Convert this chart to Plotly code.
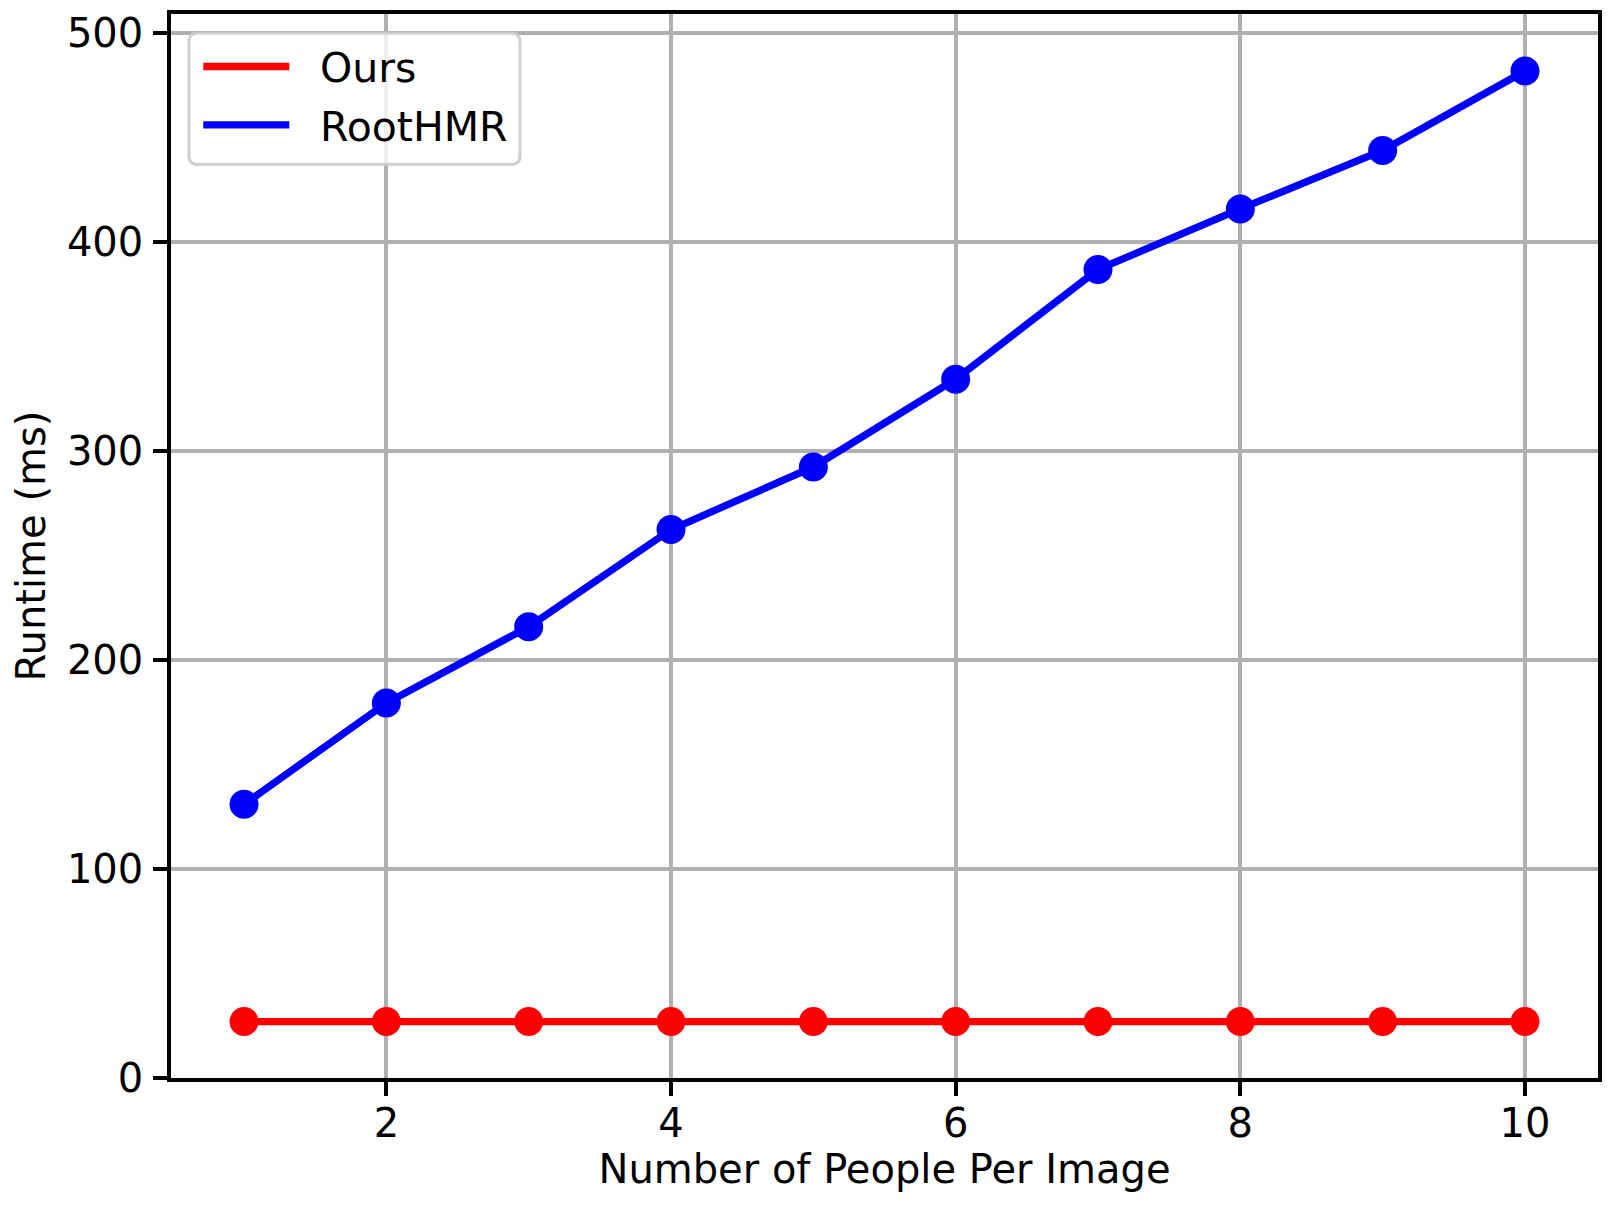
import plotly.graph_objects as go

# ---- data ----
people = [1, 2, 3, 4, 5, 6, 7, 8, 9, 10]
ours = [27, 27, 27, 27, 27, 27, 27, 27, 27, 27]
roothmr = [131, 179.5, 216, 262.5, 292.5, 334.5, 387, 416, 444, 482]
series_names = ["Ours", "RootHMR"]
series_colors = ["#ff0000", "#0000ff"]
x_ticks = [2, 4, 6, 8, 10]
y_ticks = [0, 100, 200, 300, 400, 500]

OFF = 8  # default page body margin
W, H = 1613 - OFF, 1210 - OFF
L, R, T, B = 171 - OFF, 1598 - OFF, 13.5 - OFF, 1078 - OFF  # plot area in figure pixels
FONT = "DejaVu Sans"

fig = go.Figure()
for name, ys, col in zip(series_names, [ours, roothmr], series_colors):
    fig.add_trace(go.Scatter(
        x=people, y=ys, name=name, mode="lines+markers",
        line=dict(color=col, width=7.3),
        marker=dict(color=col, size=29),
        showlegend=False,
    ))

axis_common = dict(
    showline=True, linecolor="black", linewidth=3.5, mirror=True,
    ticks="outside", ticklen=14, tickwidth=3.5, tickcolor="black",
    showgrid=True, gridcolor="#b0b0b0", gridwidth=3.5,
    zeroline=False, layer="above traces", automargin=False,
    tickfont=dict(family=FONT, size=40, color="black"),
)

fig.update_xaxes(
    range=[1 - 0.513, 10 + 0.513], tickvals=x_ticks,
    ticktext=[str(v) for v in x_ticks], ticklabelstandoff=-7,
    title=dict(text="Number of People Per Image",
               font=dict(family=FONT, size=40, color="black"), standoff=8),
    **axis_common,
)
fig.update_yaxes(
    range=[0, 509.3], tickvals=y_ticks,
    ticktext=[str(v) for v in y_ticks], ticklabelstandoff=2,
    title=dict(text="Runtime (ms)",
               font=dict(family=FONT, size=40, color="black"), standoff=16),
    **axis_common,
)

# ---- custom legend (matplotlib-like), given in page pixels ----
pw, ph = R - L, B - T
def px(x):
    return (x - OFF - L) / pw
def py(y):
    return (B - (y - OFF)) / ph

x0, x1, y0, y1, r = 189, 520, 32.5, 164.0, 9
path = (f"M {px(x0 + r)} {py(y0)} L {px(x1 - r)} {py(y0)} "
        f"Q {px(x1)} {py(y0)} {px(x1)} {py(y0 + r)} "
        f"L {px(x1)} {py(y1 - r)} Q {px(x1)} {py(y1)} {px(x1 - r)} {py(y1)} "
        f"L {px(x0 + r)} {py(y1)} Q {px(x0)} {py(y1)} {px(x0)} {py(y1 - r)} "
        f"L {px(x0)} {py(y0 + r)} Q {px(x0)} {py(y0)} {px(x0 + r)} {py(y0)} Z")
shapes = [dict(type="path", xref="paper", yref="paper", path=path,
               fillcolor="rgba(255,255,255,0.8)",
               line=dict(color="rgba(204,204,204,0.9)", width=3.2),
               layer="above")]
annotations = []
for i, (name, col) in enumerate(zip(series_names, series_colors)):
    ly = 66 + i * 58.5
    shapes.append(dict(type="line", xref="paper", yref="paper",
                       x0=px(203.3), x1=px(289.3), y0=py(ly), y1=py(ly),
                       line=dict(color=col, width=7.3), layer="above"))
    annotations.append(dict(xref="paper", yref="paper", x=px(318), y=py(ly + 2),
                            text=name, showarrow=False, xanchor="left",
                            yanchor="middle",
                            font=dict(family=FONT, size=41, color="black")))

fig.update_layout(
    width=W, height=H,
    margin=dict(l=L, r=W - R, t=T, b=H - B, pad=0, autoexpand=False),
    paper_bgcolor="white", plot_bgcolor="white",
    font=dict(family=FONT, color="black"),
    shapes=shapes, annotations=annotations,
    showlegend=False,
)

fig.write_html("out.html")
